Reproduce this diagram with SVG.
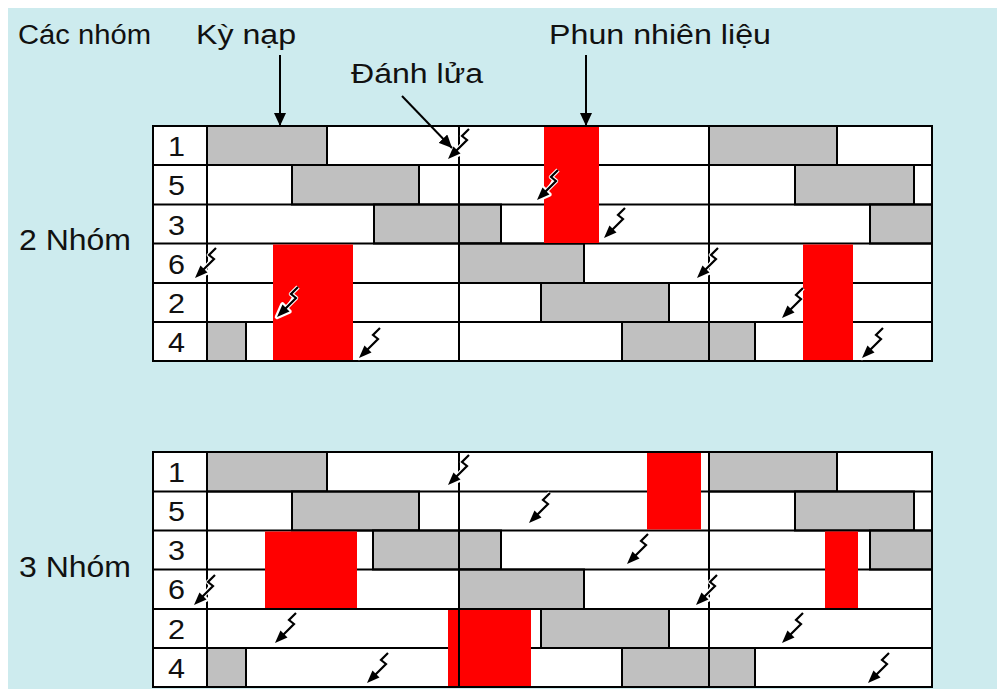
<svg xmlns="http://www.w3.org/2000/svg" xmlns:xlink="http://www.w3.org/1999/xlink" width="997" height="689" viewBox="0 0 997 689">
<style>
text{font-family:"Liberation Sans",Arial,sans-serif;fill:#111}
.lbl{font-size:27px}
.grp{font-size:30px}
.num{font-size:28px}
.cell{fill:#fff}
.gray{fill:#c0c0c0;stroke:#000;stroke-width:2}
.red{fill:#ff0000}
.ln{stroke:#000;stroke-width:2;fill:none}
.frame{fill:none;stroke:#000;stroke-width:2}
.ptr{stroke:#000;stroke-width:2;fill:none;marker-end:url(#ah)}
.halo{fill:#fff;stroke:#fff;stroke-width:4.5;stroke-linejoin:round}
.zig{fill:none;stroke:#000;stroke-width:2.2;stroke-linejoin:miter}
</style>
<defs>
<marker id="ah" markerUnits="userSpaceOnUse" markerWidth="13" markerHeight="12" viewBox="0 0 13 12" refX="13" refY="6" orient="auto">
<path d="M0,0 L13,6 L0,12 z" fill="#000"/>
</marker>
<g id="spark">
<path class="halo" fill="none" d="M21,-30 L14,-23 L19,-19 L7,-7"/>
<polygon class="halo" points="0,0 12.5,-5.5 5.5,-12.5"/>
<path class="zig" d="M21,-30 L14,-23 L19,-19 L7,-7"/>
<polygon points="0,0 12.5,-5.5 5.5,-12.5" fill="#000"/>
</g>
</defs>
<rect x="0" y="0" width="997" height="689" fill="#fff"/>
<rect x="8" y="8" width="989" height="681" fill="#cdebee"/>

<g id="labels">
<text class="lbl" x="18" y="44" textLength="133" lengthAdjust="spacingAndGlyphs">Các nhóm</text>
<text class="lbl" x="196" y="44" textLength="100" lengthAdjust="spacingAndGlyphs">Kỳ nạp</text>
<text class="lbl" x="351" y="83" textLength="132" lengthAdjust="spacingAndGlyphs">Đánh lửa</text>
<text class="lbl" x="549" y="44" textLength="222" lengthAdjust="spacingAndGlyphs">Phun nhiên liệu</text>
<text class="grp" x="19" y="250" textLength="112" lengthAdjust="spacingAndGlyphs">2 Nhóm</text>
<text class="grp" x="19" y="577" textLength="112" lengthAdjust="spacingAndGlyphs">3 Nhóm</text>
</g>

<g id="table-2-nhom">
<rect class="cell" x="153" y="126" width="779" height="235"/>
<g id="t1-gray">
<rect class="gray" x="207" y="126" width="120" height="39"/>
<rect class="gray" x="709" y="126" width="128" height="39"/>
<rect class="gray" x="292" y="165" width="127" height="39.5"/>
<rect class="gray" x="795" y="165" width="119" height="39.5"/>
<rect class="gray" x="374" y="204.5" width="127" height="39"/>
<rect class="gray" x="870" y="204.5" width="62" height="39"/>
<rect class="gray" x="459" y="243.5" width="125" height="39.5"/>
<rect class="gray" x="541" y="283" width="128" height="39"/>
<rect class="gray" x="207" y="322" width="39" height="39"/>
<rect class="gray" x="622" y="322" width="133" height="39"/>
</g>
<g id="t1-rows">
<line class="ln" x1="153" y1="165" x2="932" y2="165"/>
<line class="ln" x1="153" y1="204.5" x2="932" y2="204.5"/>
<line class="ln" x1="153" y1="243.5" x2="932" y2="243.5"/>
<line class="ln" x1="153" y1="283" x2="932" y2="283"/>
<line class="ln" x1="153" y1="322" x2="932" y2="322"/>
</g>
<g id="t1-red">
<rect class="red" x="544" y="127" width="55" height="116"/>
<rect class="red" x="273" y="244.5" width="80" height="115.5"/>
<rect class="red" x="803" y="244.5" width="50" height="115.5"/>
</g>
<line class="ln" x1="207" y1="126" x2="207" y2="361"/>
<line class="ln" x1="459" y1="126" x2="459" y2="361"/>
<line class="ln" x1="709" y1="126" x2="709" y2="361"/>
<rect class="frame" x="153" y="126" width="779" height="235"/>
<g id="t1-nums">
<text class="num" x="168" y="156" textLength="17" lengthAdjust="spacingAndGlyphs">1</text>
<text class="num" x="168" y="195" textLength="17" lengthAdjust="spacingAndGlyphs">5</text>
<text class="num" x="168" y="235" textLength="17" lengthAdjust="spacingAndGlyphs">3</text>
<text class="num" x="168" y="274" textLength="17" lengthAdjust="spacingAndGlyphs">6</text>
<text class="num" x="168" y="313" textLength="17" lengthAdjust="spacingAndGlyphs">2</text>
<text class="num" x="168" y="352" textLength="17" lengthAdjust="spacingAndGlyphs">4</text>
</g>
<g id="t1-sparks">
<use xlink:href="#spark" x="448" y="159"/>
<use xlink:href="#spark" x="537" y="200"/>
<use xlink:href="#spark" x="604" y="238"/>
<use xlink:href="#spark" x="195" y="278"/>
<use xlink:href="#spark" x="697" y="278"/>
<use xlink:href="#spark" x="277" y="317"/>
<use xlink:href="#spark" x="782" y="318"/>
<use xlink:href="#spark" x="359" y="358"/>
<use xlink:href="#spark" x="862" y="358"/>
</g>
</g>

<g id="table-3-nhom">
<rect class="cell" x="153" y="452" width="779" height="235"/>
<g id="t2-gray">
<rect class="gray" x="207" y="452" width="120" height="39.5"/>
<rect class="gray" x="709" y="452" width="128" height="39.5"/>
<rect class="gray" x="292" y="491.5" width="127" height="39"/>
<rect class="gray" x="795" y="491.5" width="119" height="39"/>
<rect class="gray" x="373" y="530.5" width="128" height="39"/>
<rect class="gray" x="870" y="530.5" width="62" height="39"/>
<rect class="gray" x="459" y="569.5" width="125" height="39.5"/>
<rect class="gray" x="541" y="609" width="128" height="39"/>
<rect class="gray" x="207" y="648" width="39" height="39"/>
<rect class="gray" x="622" y="648" width="133" height="39"/>
</g>
<g id="t2-rows">
<line class="ln" x1="153" y1="491.5" x2="932" y2="491.5"/>
<line class="ln" x1="153" y1="530.5" x2="932" y2="530.5"/>
<line class="ln" x1="153" y1="569.5" x2="932" y2="569.5"/>
<line class="ln" x1="153" y1="609" x2="932" y2="609"/>
<line class="ln" x1="153" y1="648" x2="932" y2="648"/>
</g>
<g id="t2-red">
<rect class="red" x="647" y="453" width="54" height="76.5"/>
<rect class="red" x="265" y="531.5" width="92" height="76.5"/>
<rect class="red" x="825" y="531.5" width="33" height="76.5"/>
<rect class="red" x="448" y="610" width="83" height="76"/>
</g>
<line class="ln" x1="207" y1="452" x2="207" y2="687"/>
<line class="ln" x1="459" y1="452" x2="459" y2="687"/>
<line class="ln" x1="709" y1="452" x2="709" y2="687"/>
<rect class="frame" x="153" y="452" width="779" height="235"/>
<g id="t2-nums">
<text class="num" x="168" y="482" textLength="17" lengthAdjust="spacingAndGlyphs">1</text>
<text class="num" x="168" y="521" textLength="17" lengthAdjust="spacingAndGlyphs">5</text>
<text class="num" x="168" y="560" textLength="17" lengthAdjust="spacingAndGlyphs">3</text>
<text class="num" x="168" y="599" textLength="17" lengthAdjust="spacingAndGlyphs">6</text>
<text class="num" x="168" y="639" textLength="17" lengthAdjust="spacingAndGlyphs">2</text>
<text class="num" x="168" y="678" textLength="17" lengthAdjust="spacingAndGlyphs">4</text>
</g>
<g id="t2-sparks">
<use xlink:href="#spark" x="448" y="485"/>
<use xlink:href="#spark" x="529" y="523"/>
<use xlink:href="#spark" x="627" y="564"/>
<use xlink:href="#spark" x="194" y="605"/>
<use xlink:href="#spark" x="696" y="605"/>
<use xlink:href="#spark" x="275" y="643"/>
<use xlink:href="#spark" x="782" y="643"/>
<use xlink:href="#spark" x="367" y="683"/>
<use xlink:href="#spark" x="868" y="683"/>
</g>
</g>

<g id="connectors">
<line class="ptr" x1="280" y1="55" x2="280" y2="126"/>
<line class="ptr" x1="586" y1="55" x2="586" y2="126"/>
<line class="ptr" x1="402" y1="96" x2="452" y2="148"/>
</g>
</svg>
